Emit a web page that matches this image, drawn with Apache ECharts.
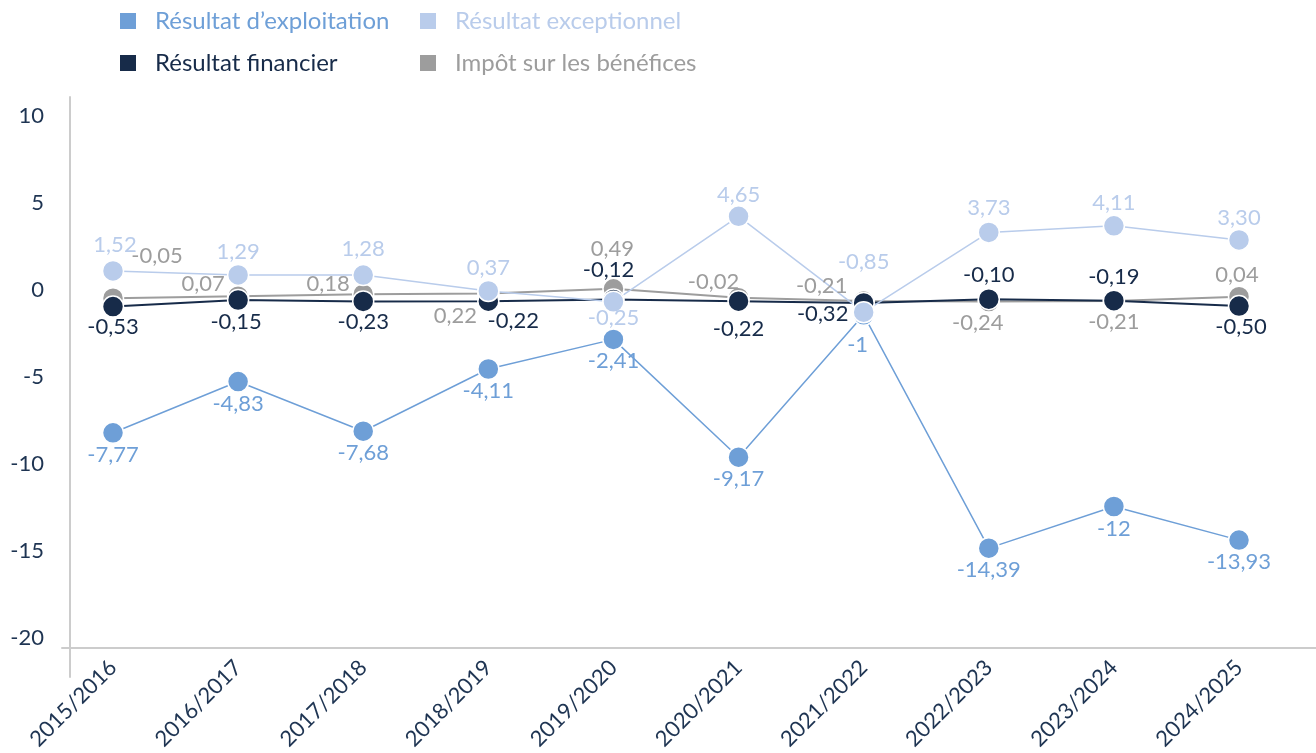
<!DOCTYPE html>
<html lang="fr">
<head>
<meta charset="utf-8">
<title>Résultats</title>
<script src="https://cdn.jsdelivr.net/npm/echarts@6/dist/echarts.min.js"></script>
<style>
  html, body { margin: 0; padding: 0; background: #ffffff; }
  #chart { width: 1316px; height: 753px; }
</style>
</head>
<body>
<div id="chart"></div>
<script>
// Exercices
const categories = ['2015/2016', '2016/2017', '2017/2018', '2018/2019', '2019/2020',
                    '2020/2021', '2021/2022', '2022/2023', '2023/2024', '2024/2025'];

// Valeurs par série (M€)
const exploitation = [-7.77, -4.83, -7.68, -4.11, -2.41, -9.17, -1, -14.39, -12, -13.93];
const exceptionnel = [1.52, 1.29, 1.28, 0.37, -0.25, 4.65, -0.85, 3.73, 4.11, 3.30];
const financier    = [-0.53, -0.15, -0.23, -0.22, -0.12, -0.22, -0.32, -0.10, -0.19, -0.50];
const impot        = [-0.05, 0.07, 0.18, 0.22, 0.49, -0.02, -0.21, -0.24, -0.21, 0.04];

// Graduations de l'axe vertical
const yTicks = [-20, -15, -10, -5, 0, 5, 10];

const FONT = 'Lato';
const AXIS_TEXT = '#1e3452';
const AXIS_LINE = '#cccccc';

// Décalage des étiquettes de valeur (px) pour éviter les chevauchements
const nudgeExploitation = [[0, 22], [0, 22], [0, 22], [0, 22], [0, 22], [0, 22], [-6, 30], [0, 22], [0, 22], [0, 22]];
const nudgeExceptionnel = [[2, -26], [0, -23], [0, -26], [0, -23], [0, 16], [0, -21], [0, -50], [0, -24], [0, -23], [0, -22]];
const nudgeFinancier    = [[0, 20], [-2, 22], [0, 21], [25, 20], [-5, -30], [0, 28], [-41, 11], [0, -24], [0, -24], [2, 21]];
const nudgeImpot        = [[44, -42], [-35, -12], [-35, -10], [-33, 22], [-1, -40], [-25, -16], [-42, -15], [-11, 21], [0, 21], [-2, -22]];

function fmt(v) {
  return Number.isInteger(v) ? String(v) : v.toFixed(2).replace('.', ',');
}

function makeSeries(name, values, color, nudges, lineWidth) {
  return {
    name: name,
    type: 'line',
    xAxisIndex: 0,
    yAxisIndex: 0,
    symbol: 'circle',
    symbolSize: 21,
    lineStyle: { color: color, width: lineWidth },
    itemStyle: { color: color, borderColor: '#ffffff', borderWidth: 1.5 },
    emphasis: { disabled: true },
    label: {
      show: true,
      position: 'inside',
      color: color,
      fontFamily: FONT,
      fontSize: 22,
      formatter: function (p) { return fmt(p.value); }
    },
    data: values.map(function (v, i) {
      return { value: v, label: { offset: nudges[i] } };
    })
  };
}

function makeLegend(name, color, left, top) {
  return {
    data: [name],
    left: left,
    top: top,
    padding: 0,
    icon: 'rect',
    itemWidth: 16,
    itemHeight: 16,
    itemStyle: { borderWidth: 0 },
    selectedMode: false,
    textStyle: { color: color, fontFamily: FONT, fontSize: 24, padding: [0, 0, 0, 14] }
  };
}

const C_EXPL = '#6e9fd7';
const C_EXCEP = '#b9cceb';
const C_FIN = '#172b49';
const C_IMP = '#9d9d9d';

const chart = echarts.init(document.getElementById('chart'), null, { renderer: 'canvas' });

chart.setOption({
  animation: false,
  backgroundColor: '#ffffff',
  legend: [
    makeLegend('Résultat d’exploitation', C_EXPL, 120, 9),
    makeLegend('Résultat exceptionnel', C_EXCEP, 420, 9),
    makeLegend('Résultat financier', C_FIN, 120, 51),
    makeLegend('Impôt sur les bénéfices', C_IMP, 420, 51)
  ],
  grid: [
    // zone de tracé
    { left: 113, right: 77, top: 97, bottom: 105 },
    // trait vertical de l'axe (prolongé sous l'axe horizontal)
    { left: 70, width: 1, top: 97, bottom: 76 },
    // trait horizontal de l'axe
    { left: 62, right: 0, top: 97, bottom: 105 }
  ],
  xAxis: [
    {
      gridIndex: 0,
      type: 'category',
      data: categories,
      boundaryGap: false,
      axisLine: { show: false },
      axisTick: { show: false },
      splitLine: { show: false },
      axisLabel: {
        rotate: 45,
        margin: 18,
        interval: 0,
        color: AXIS_TEXT,
        fontFamily: FONT,
        fontSize: 22
      }
    },
    { gridIndex: 1, type: 'value', show: false },
    {
      gridIndex: 2,
      type: 'value',
      axisLine: { show: true, onZero: false, lineStyle: { color: AXIS_LINE, width: 2 } },
      axisTick: { show: false },
      axisLabel: { show: false },
      splitLine: { show: false }
    }
  ],
  yAxis: [
    {
      gridIndex: 0,
      type: 'value',
      min: -20,
      max: 11.5,
      interval: 5,
      offset: 43,
      axisLine: { show: false },
      axisTick: { show: false },
      splitLine: { show: false },
      axisLabel: {
        showMaxLabel: false,
        margin: 26,
        color: AXIS_TEXT,
        fontFamily: FONT,
        fontSize: 22,
        verticalAlign: 'bottom',
        lineHeight: 15,
        formatter: function (v) { return yTicks.indexOf(v) >= 0 ? String(v) : ''; }
      }
    },
    {
      gridIndex: 1,
      type: 'value',
      axisLine: { show: true, onZero: false, lineStyle: { color: AXIS_LINE, width: 2 } },
      axisTick: { show: false },
      axisLabel: { show: false },
      splitLine: { show: false }
    },
    { gridIndex: 2, type: 'value', show: false }
  ],
  series: [
    makeSeries('Résultat d’exploitation', exploitation, C_EXPL, nudgeExploitation, 1.5),
    makeSeries('Impôt sur les bénéfices', impot, C_IMP, nudgeImpot, 2),
    makeSeries('Résultat financier', financier, C_FIN, nudgeFinancier, 2),
    makeSeries('Résultat exceptionnel', exceptionnel, C_EXCEP, nudgeExceptionnel, 1.5)
  ]
});
</script>
</body>
</html>
